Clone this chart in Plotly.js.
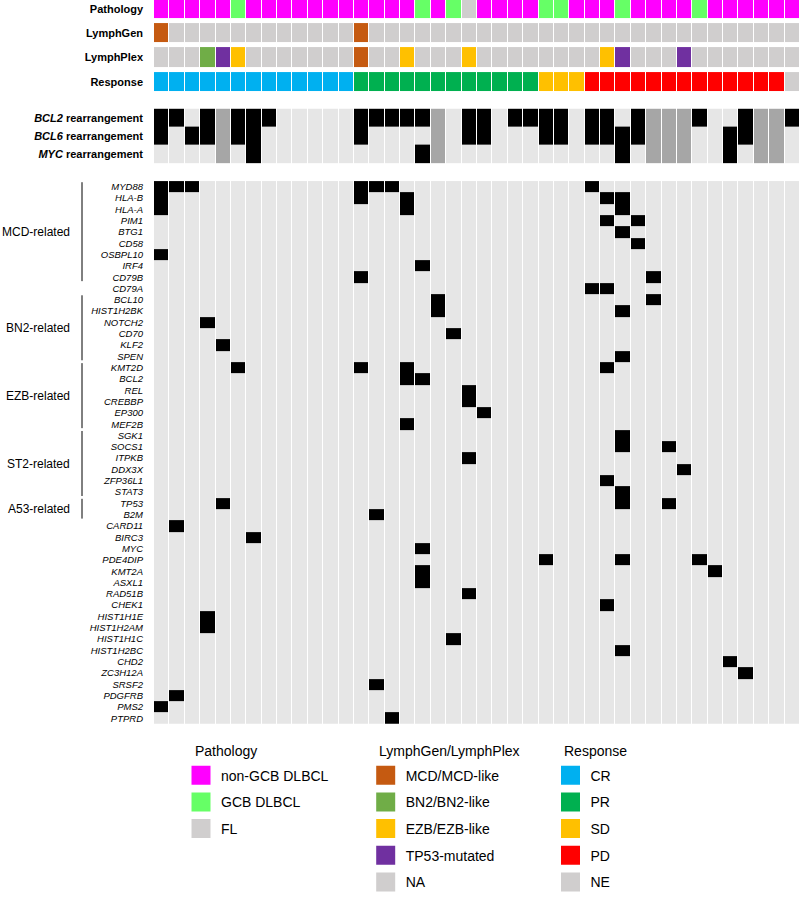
<!DOCTYPE html>
<html><head><meta charset="utf-8">
<script src="https://cdn.plot.ly/plotly-3.0.1.min.js"></script>
<style>html,body{margin:0;padding:0;background:#fff}#chart{width:800px;height:898px}</style>
</head><body><div id="chart"></div>
<script>
const FONT = 'Liberation Sans, Arial, sans-serif';

// ---------------- DATA ----------------
const nSamples = 42;
// Pathology codes: N = non-GCB DLBCL, G = GCB DLBCL, F = FL
const pathology = ['N','N','N','N','N','G','N','N','N','N','N','N','N','N','N','N','N','G','N','G','F',
                   'N','N','N','N','G','G','N','N','N','G','N','N','N','N','G','N','N','N','N','N','N'];
const pathologyCodes = ['N','G','F'];
const pathologyNames = ['non-GCB DLBCL','GCB DLBCL','FL'];
const pathologyColors = ['#ff00ff','#66ff66','#d0cece'];

// LymphGen / LymphPlex codes
const lymphGen = ['MCD','NA','NA','NA','NA','NA','NA','NA','NA','NA','NA','NA','NA','MCD','NA','NA','NA','NA','NA','NA','NA',
                  'NA','NA','NA','NA','NA','NA','NA','NA','NA','NA','NA','NA','NA','NA','NA','NA','NA','NA','NA','NA','NA'];
const lymphPlex = ['NA','NA','NA','BN2','TP53','EZB','NA','NA','NA','NA','NA','NA','NA','MCD','NA','NA','EZB','NA','NA','NA','EZB',
                   'NA','NA','NA','NA','NA','NA','NA','NA','EZB','TP53','NA','NA','NA','TP53','NA','NA','NA','NA','NA','NA','NA'];
const subtypeCodes = ['MCD','BN2','EZB','TP53','NA'];
const subtypeNames = ['MCD/MCD-like','BN2/BN2-like','EZB/EZB-like','TP53-mutated','NA'];
const subtypeColors = ['#c55a11','#70ad47','#ffc000','#7030a0','#d0cece'];

const response = ['CR','CR','CR','CR','CR','CR','CR','CR','CR','CR','CR','CR','CR','PR','PR','PR','PR','PR','PR','PR','PR',
                  'PR','PR','PR','PR','SD','SD','SD','PD','PD','PD','PD','PD','PD','PD','PD','PD','PD','PD','PD','PD','NE'];
const responseCodes = ['CR','PR','SD','PD','NE'];
const responseColors = ['#00b0f0','#00b050','#ffc000','#ff0000','#d0cece'];

const annotationLabels = ['Pathology','LymphGen','LymphPlex','Response'];
const legendTitles = ['Pathology','LymphGen/LymphPlex','Response'];

// Rearrangements: Y = yes, N = no, X = not available
const bcl2Rearr = ['Y','Y','N','Y','X','Y','Y','Y','N','N','N','N','N','Y','Y','Y','Y','Y','X','N','Y',
                   'Y','N','Y','Y','Y','Y','N','Y','Y','N','Y','X','X','X','Y','N','N','Y','X','X','Y'];
const bcl6Rearr = ['Y','N','Y','Y','X','Y','Y','N','N','N','N','N','N','Y','N','N','N','N','X','N','Y',
                   'Y','N','N','N','Y','Y','N','Y','Y','Y','Y','X','X','X','N','N','Y','Y','X','X','N'];
const mycRearr  = ['N','N','N','N','X','N','Y','N','N','N','N','N','N','N','N','N','N','Y','X','N','N',
                   'N','N','N','N','N','N','N','N','N','Y','N','X','X','X','N','N','Y','N','X','X','N'];
const rearrLabels = ['<b><i>BCL2</i> rearrangement</b>','<b><i>BCL6</i> rearrangement</b>','<b><i>MYC</i> rearrangement</b>'];
const rearrCodes = ['N','Y','X'];
const rearrColors = ['#e6e6e6','#000000','#a6a6a6'];

// Mutated genes (rows) and the sample columns (0-based) that carry a mutation
const genes = ['MYD88','HLA-B','HLA-A','PIM1','BTG1','CD58','OSBPL10','IRF4','CD79B','CD79A',
               'BCL10','HIST1H2BK','NOTCH2','CD70','KLF2','SPEN',
               'KMT2D','BCL2','REL','CREBBP','EP300','MEF2B',
               'SGK1','SOCS1','ITPKB','DDX3X','ZFP36L1','STAT3',
               'TP53','B2M','CARD11','BIRC3','MYC','PDE4DIP','KMT2A','ASXL1','RAD51B','CHEK1',
               'HIST1H1E','HIST1H2AM','HIST1H1C','HIST1H2BC','CHD2','ZC3H12A','SRSF2','PDGFRB','PMS2','PTPRD'];
const mutatedSamples = [
  [0,1,2,13,14,15,28], [0,13,16,29,30], [0,16,30], [29,31], [30], [31], [0], [17], [13,32], [28,29],
  [18,32], [18,30], [3], [19], [4], [30],
  [5,13,16,29], [16,17], [20], [20], [21], [16],
  [30], [30,33], [20], [34], [29], [30],
  [4,30,33], [14], [1], [6], [17], [25,30,35], [17,36], [17], [20], [29],
  [3], [3], [19], [30], [37], [38], [14], [1], [0], [15]
];
const groupLabels = ['MCD-related','BN2-related','EZB-related','ST2-related','A53-related'];
const groupFirst  = ['MYD88','BCL10','KMT2D','SGK1','TP53'];
const groupLast   = ['CD79B','SPEN','MEF2B','STAT3','B2M'];

// ---------------- BUILD ----------------
const W = 800, H = 898, ML = 154, MR = 0;
const PW = W - ML - MR;
const fx = px => (px - ML) / PW;   // figure pixel -> paper x
const fy = px => 1 - px / H;       // figure pixel -> paper y
const cols = Array.from({length: nSamples}, (_, i) => i);

function discreteScale(colors) {
  const n = colors.length, cs = [];
  colors.forEach((c, i) => { cs.push([i / n, c]); cs.push([(i + 1) / n, c]); });
  return cs;
}

const annPalette = [...pathologyColors, ...subtypeColors, ...responseColors];
const offP = 0, offS = pathologyColors.length, offR = offS + subtypeColors.length;
const annZ = [
  pathology.map(v => offP + pathologyCodes.indexOf(v)),
  lymphGen.map(v => offS + subtypeCodes.indexOf(v)),
  lymphPlex.map(v => offS + subtypeCodes.indexOf(v)),
  response.map(v => offR + responseCodes.indexOf(v))
];
const rearrZ = [bcl2Rearr, bcl6Rearr, mycRearr].map(r => r.map(v => rearrCodes.indexOf(v)));
const mutZ = mutatedSamples.map(list => cols.map(c => list.includes(c) ? 1 : 0));

const traces = [
  {type: 'heatmap', x: cols, y: [0,1,2,3], z: annZ, xaxis: 'x', yaxis: 'y',
   colorscale: discreteScale(annPalette), zmin: -0.5, zmax: annPalette.length - 0.5,
   showscale: false, xgap: 1, ygap: 5, hoverinfo: 'skip'},
  {type: 'heatmap', x: cols, y: [0,1,2], z: rearrZ, xaxis: 'x', yaxis: 'y2',
   colorscale: discreteScale(rearrColors), zmin: -0.5, zmax: rearrColors.length - 0.5,
   showscale: false, xgap: 1, ygap: 0, hoverinfo: 'skip'},
  {type: 'heatmap', x: cols, y: genes.map((_, i) => i), z: mutZ, xaxis: 'x', yaxis: 'y3',
   colorscale: [[0, '#e6e6e6'], [1, '#000000']], zmin: 0, zmax: 1,
   showscale: false, xgap: 1, ygap: 0, hoverinfo: 'skip'}
];

function addLegend(names, colors, legendId) {
  names.forEach((nm, i) => traces.push({
    type: 'scatter', mode: 'markers', x: [null], y: [null], xaxis: 'x', yaxis: 'y3',
    name: nm, legend: legendId, legendgroup: legendId + '_' + i, showlegend: true,
    marker: {symbol: 'square', size: 16, color: colors[i], line: {color: colors[i], width: 3}}
  }));
}
addLegend(pathologyNames, pathologyColors, 'legend');
addLegend(subtypeNames, subtypeColors, 'legend2');
addLegend(responseCodes, responseColors, 'legend3');

const legendSwatchCenters = [201, 385.7, 570.5];
const legendBase = (xpx) => ({
  x: fx(xpx - 20), y: fy(764.7), xanchor: 'left', yanchor: 'top', orientation: 'v',
  traceorder: 'grouped', tracegroupgap: 5.5, bgcolor: 'rgba(0,0,0,0)', borderwidth: 0,
  font: {family: FONT, size: 14, color: '#000'}
});

const shapes = [], annotations = [];
groupLabels.forEach((lab, g) => {
  const a = genes.indexOf(groupFirst[g]), b = genes.indexOf(groupLast[g]);
  shapes.push({type: 'line', xref: 'paper', yref: 'y3', x0: fx(82), x1: fx(82),
               y0: a - 0.4, y1: b + 0.35, line: {color: '#000', width: 1}});
  annotations.push({xref: 'paper', yref: 'y3', x: fx(72), y: (a + b) / 2, xanchor: 'right', yanchor: 'middle',
                    text: lab, showarrow: false, font: {family: FONT, size: 12, color: '#000'}});
});
legendTitles.forEach((t, i) => {
  annotations.push({xref: 'paper', yref: 'paper', x: fx(legendSwatchCenters[i] - 8.5), y: fy(755.7),
                    xanchor: 'left', yanchor: 'middle', text: t, showarrow: false,
                    font: {family: FONT, size: 14, color: '#000'}});
});

const yCommon = {showgrid: false, zeroline: false, showline: false, ticks: '', anchor: 'x', fixedrange: true,
                 ticklabelstandoff: 10};

const layout = {
  width: W, height: H, margin: {l: ML, r: MR, t: 0, b: 0},
  paper_bgcolor: '#fff', plot_bgcolor: '#fff', hovermode: false, showlegend: true,
  font: {family: FONT, color: '#000'},
  xaxis: {domain: [0, 1], range: [-0.5, nSamples - 0.5], showticklabels: false, showgrid: false,
          zeroline: false, showline: false, ticks: '', anchor: 'y3', fixedrange: true},
  yaxis: Object.assign({}, yCommon, {domain: [fy(92), fy(0)], range: [3.393, -0.377],
          tickvals: [0,1,2,3], ticktext: annotationLabels,
          tickfont: {family: FONT, size: 11, weight: 'bold', color: '#000'}}),
  yaxis2: Object.assign({}, yCommon, {domain: [fy(164.3), fy(109.3)], range: [2.5, -0.5],
          tickvals: [0,1,2], ticktext: rearrLabels,
          tickfont: {family: FONT, size: 11, color: '#000'}}),
  yaxis3: Object.assign({}, yCommon, {domain: [fy(728.7), fy(182.3)], range: [genes.length - 0.5, -0.5],
          tickvals: genes.map((_, i) => i), ticktext: genes,
          tickfont: {family: FONT, size: 9.5, style: 'italic', color: '#000'}}),
  legend: legendBase(legendSwatchCenters[0]),
  legend2: legendBase(legendSwatchCenters[1]),
  legend3: legendBase(legendSwatchCenters[2]),
  shapes: shapes,
  annotations: annotations
};

Plotly.newPlot('chart', traces, layout, {displayModeBar: false, staticPlot: true});
</script>
</body></html>
